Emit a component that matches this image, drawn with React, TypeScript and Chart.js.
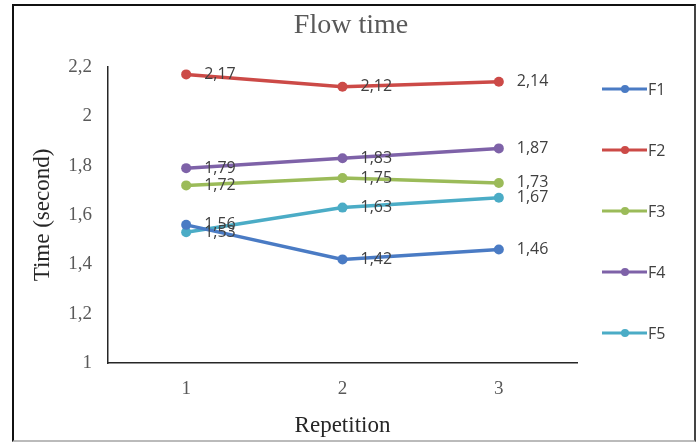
import React, { useEffect, useRef } from "react";
import { Chart, registerables } from "chart.js";

Chart.register(...registerables);

const categories = ["1", "2", "3"];
const seriesNames = ["F1", "F2", "F3", "F4", "F5"];
const f1 = [1.56, 1.42, 1.46];
const f2 = [2.17, 2.12, 2.14];
const f3 = [1.72, 1.75, 1.73];
const f4 = [1.79, 1.83, 1.87];
const f5 = [1.53, 1.63, 1.67];
const seriesValues = [f1, f2, f3, f4, f5];
const seriesColors = ["#4A7BC4", "#CC4A47", "#9BBB59", "#7E62A8", "#4BACC6"];
const yMin = 1;
const yMax = 2.2;
const yStep = 0.2;

const SERIF = "'Liberation Serif', 'Times New Roman', serif";
const fmt = (v: number) => String(Math.round(v * 100) / 100).replace(".", ",");

const extrasPlugin = {
  id: "extras",
  afterDatasetsDraw(chart: any) {
    const ctx = chart.ctx;
    ctx.save();
    // data labels
    ctx.font = "16px 'Open Sans', sans-serif";
    ctx.fillStyle = "#404040";
    ctx.textAlign = "left";
    ctx.textBaseline = "middle";
    chart.data.datasets.forEach((ds: any, i: number) => {
      const meta = chart.getDatasetMeta(i);
      meta.data.forEach((pt: any, j: number) => {
        ctx.fillText(fmt(ds.data[j]), pt.x + 18, pt.y);
      });
    });
    // title
    ctx.font = "28px " + SERIF;
    ctx.fillStyle = "#595959";
    ctx.textAlign = "center";
    ctx.textBaseline = "alphabetic";
    ctx.fillText("Flow time", 351, 33);
    // legend
    const area = chart.chartArea;
    ctx.textBaseline = "middle";
    chart.data.datasets.forEach((ds: any, i: number) => {
      const y = 89 + i * 61;
      const x0 = area.right + 25;
      ctx.strokeStyle = ds.borderColor;
      ctx.lineWidth = 3;
      ctx.beginPath();
      ctx.moveTo(x0, y);
      ctx.lineTo(x0 + 45, y);
      ctx.stroke();
      ctx.fillStyle = ds.borderColor;
      ctx.beginPath();
      ctx.arc(x0 + 23, y, 4, 0, Math.PI * 2);
      ctx.fill();
      ctx.fillStyle = "#404040";
      ctx.font = "16px 'Open Sans', sans-serif";
      ctx.textAlign = "left";
      ctx.fillText(ds.label, x0 + 46, y + 1);
    });
    ctx.restore();
  },
};

function App() {
  const ref = useRef<HTMLCanvasElement | null>(null);
  useEffect(() => {
    if (!ref.current) return;
    const chart = new Chart(ref.current, {
      type: "line",
      data: {
        labels: categories,
        datasets: seriesNames.map((name, i) => ({
          label: name,
          data: seriesValues[i],
          borderColor: seriesColors[i],
          backgroundColor: seriesColors[i],
          borderWidth: 3.5,
          pointRadius: 5,
          pointBorderWidth: 0,
          tension: 0,
        })),
      },
      options: {
        animation: false,
        responsive: false,
        events: [],
        layout: { padding: { top: 67, right: 123, left: 0, bottom: 0 } },
        plugins: { legend: { display: false }, tooltip: { enabled: false }, title: { display: false } },
        scales: {
          x: {
            offset: true,
            grid: { display: false, drawTicks: false },
            border: { display: true, color: "#262626", width: 1.5 },
            ticks: {
              padding: 15,
              color: "#595959",
              font: { family: SERIF, size: 19 },
            },
            title: {
              display: true,
              text: "Repetition",
              color: "#262626",
              font: { family: SERIF, size: 23 },
              padding: { top: 0, bottom: 4 },
            },
            afterFit: (s: any) => {
              s.height = 81;
            },
          },
          y: {
            min: yMin,
            max: yMax,
            grid: { display: false, drawTicks: false },
            border: { display: true, color: "#262626", width: 1.5 },
            ticks: {
              stepSize: yStep,
              padding: 16,
              color: "#595959",
              font: { family: SERIF, size: 19 },
              callback: (v: any) => fmt(Number(v)),
            },
            title: {
              display: true,
              text: "Time (second)",
              color: "#262626",
              font: { family: SERIF, size: 23 },
              padding: { top: 29, bottom: 0 },
            },
            afterFit: (s: any) => {
              s.width = 108;
            },
          },
        },
      },
      plugins: [extrasPlugin],
    });
    return () => chart.destroy();
  }, []);

  return (
    <div style={{ position: "fixed", left: 0, top: 0, width: 700, height: 444, background: "#fff" }}>
      <div
        style={{
          position: "absolute",
          left: 12,
          top: 4,
          width: 680,
          height: 434,
          borderLeft: "2px solid #111",
          borderTop: "2px solid #111",
          borderRight: "2px solid #444",
          borderBottom: "2px solid #bbb",
        }}
      />
      <canvas ref={ref} width={700} height={444} style={{ position: "absolute", left: 0, top: 0 }} />
    </div>
  );
}

export default App;
